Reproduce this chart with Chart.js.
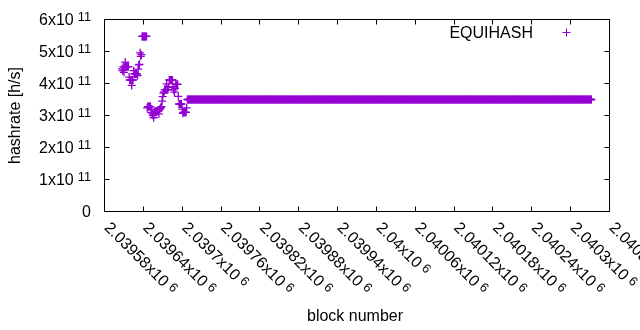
<!DOCTYPE html>
<html><head><meta charset="utf-8">
<script src="https://cdn.jsdelivr.net/npm/chart.js@4/dist/chart.umd.min.js"></script>
<style>html,body{margin:0;padding:0;background:#fff}canvas{display:block}</style>
</head><body>
<canvas id="c" width="640" height="330"></canvas>
<script>
const seriesName = "EQUIHASH";
const xTitle = "block number";
const yTitle = "hashrate [h/s]";
const firstBlock = 2039607;
const hashrate = [
4.46e11,4.40e11,4.52e11,4.35e11,4.51e11,4.67e11,4.53e11,4.53e11,4.53e11,4.53e11,
4.53e11,4.20e11,4.11e11,4.11e11,4.11e11,3.94e11,4.11e11,4.11e11,4.40e11,4.30e11,
4.30e11,4.30e11,4.30e11,4.30e11,4.25e11,4.45e11,4.58e11,4.60e11,4.96e11,4.85e11,
4.90e11,5.47e11,5.47e11,5.47e11,5.47e11,5.47e11,5.47e11,5.47e11,5.47e11,3.24e11,
3.28e11,3.28e11,3.28e11,3.28e11,3.28e11,3.10e11,3.20e11,3.05e11,3.00e11,2.93e11,
3.10e11,3.13e11,3.13e11,3.13e11,3.13e11,3.13e11,3.13e11,3.05e11,3.18e11,3.22e11,
3.25e11,3.28e11,3.45e11,3.59e11,3.70e11,3.74e11,3.81e11,3.81e11,3.81e11,3.99e11,
3.81e11,3.81e11,3.88e11,4.11e11,4.11e11,4.11e11,4.11e11,4.11e11,4.11e11,3.90e11,
3.80e11,3.73e11,3.85e11,3.97e11,3.97e11,3.97e11,3.97e11,3.60e11,3.36e11,3.36e11,
3.36e11,3.36e11,3.36e11,3.20e11,3.07e11,3.10e11,3.10e11,3.10e11,3.10e11,3.10e11,
3.24e11,
3.5e11,3.5e11,3.5e11,3.5e11,3.5e11,3.5e11,3.5e11,3.5e11,3.5e11,3.5e11,3.5e11,3.5e11,3.5e11,3.5e11,3.5e11,3.5e11,3.5e11,3.5e11,3.5e11,3.5e11,3.5e11,3.5e11,3.5e11,3.5e11,3.5e11,
3.5e11,3.5e11,3.5e11,3.5e11,3.5e11,3.5e11,3.5e11,3.5e11,3.5e11,3.5e11,3.5e11,3.5e11,3.5e11,3.5e11,3.5e11,3.5e11,3.5e11,3.5e11,3.5e11,3.5e11,3.5e11,3.5e11,3.5e11,3.5e11,3.5e11,
3.5e11,3.5e11,3.5e11,3.5e11,3.5e11,3.5e11,3.5e11,3.5e11,3.5e11,3.5e11,3.5e11,3.5e11,3.5e11,3.5e11,3.5e11,3.5e11,3.5e11,3.5e11,3.5e11,3.5e11,3.5e11,3.5e11,3.5e11,3.5e11,3.5e11,
3.5e11,3.5e11,3.5e11,3.5e11,3.5e11,3.5e11,3.5e11,3.5e11,3.5e11,3.5e11,3.5e11,3.5e11,3.5e11,3.5e11,3.5e11,3.5e11,3.5e11,3.5e11,3.5e11,3.5e11,3.5e11,3.5e11,3.5e11,3.5e11,3.5e11,
3.5e11,3.5e11,3.5e11,3.5e11,3.5e11,3.5e11,3.5e11,3.5e11,3.5e11,3.5e11,3.5e11,3.5e11,3.5e11,3.5e11,3.5e11,3.5e11,3.5e11,3.5e11,3.5e11,3.5e11,3.5e11,3.5e11,3.5e11,3.5e11,3.5e11,
3.5e11,3.5e11,3.5e11,3.5e11,3.5e11,3.5e11,3.5e11,3.5e11,3.5e11,3.5e11,3.5e11,3.5e11,3.5e11,3.5e11,3.5e11,3.5e11,3.5e11,3.5e11,3.5e11,3.5e11,3.5e11,3.5e11,3.5e11,3.5e11,3.5e11,
3.5e11,3.5e11,3.5e11,3.5e11,3.5e11,3.5e11,3.5e11,3.5e11,3.5e11,3.5e11,3.5e11,3.5e11,3.5e11,3.5e11,3.5e11,3.5e11,3.5e11,3.5e11,3.5e11,3.5e11,3.5e11,3.5e11,3.5e11,3.5e11,3.5e11,
3.5e11,3.5e11,3.5e11,3.5e11,3.5e11,3.5e11,3.5e11,3.5e11,3.5e11,3.5e11,3.5e11,3.5e11,3.5e11,3.5e11,3.5e11,3.5e11,3.5e11,3.5e11,3.5e11,3.5e11,3.5e11,3.5e11,3.5e11,3.5e11,3.5e11,
3.5e11,3.5e11,3.5e11,3.5e11,3.5e11,3.5e11,3.5e11,3.5e11,3.5e11,3.5e11,3.5e11,3.5e11,3.5e11,3.5e11,3.5e11,3.5e11,3.5e11,3.5e11,3.5e11,3.5e11,3.5e11,3.5e11,3.5e11,3.5e11,3.5e11,
3.5e11,3.5e11,3.5e11,3.5e11,3.5e11,3.5e11,3.5e11,3.5e11,3.5e11,3.5e11,3.5e11,3.5e11,3.5e11,3.5e11,3.5e11,3.5e11,3.5e11,3.5e11,3.5e11,3.5e11,3.5e11,3.5e11,3.5e11,3.5e11,3.5e11,
3.5e11,3.5e11,3.5e11,3.5e11,3.5e11,3.5e11,3.5e11,3.5e11,3.5e11,3.5e11,3.5e11,3.5e11,3.5e11,3.5e11,3.5e11,3.5e11,3.5e11,3.5e11,3.5e11,3.5e11,3.5e11,3.5e11,3.5e11,3.5e11,3.5e11,
3.5e11,3.5e11,3.5e11,3.5e11,3.5e11,3.5e11,3.5e11,3.5e11,3.5e11,3.5e11,3.5e11,3.5e11,3.5e11,3.5e11,3.5e11,3.5e11,3.5e11,3.5e11,3.5e11,3.5e11,3.5e11,3.5e11,3.5e11,3.5e11,3.5e11,
3.5e11,3.5e11,3.5e11,3.5e11,3.5e11,3.5e11,3.5e11,3.5e11,3.5e11,3.5e11,3.5e11,3.5e11,3.5e11,3.5e11,3.5e11,3.5e11,3.5e11,3.5e11,3.5e11,3.5e11,3.5e11,3.5e11,3.5e11,3.5e11,3.5e11,
3.5e11,3.5e11,3.5e11,3.5e11,3.5e11,3.5e11,3.5e11,3.5e11,3.5e11,3.5e11,3.5e11,3.5e11,3.5e11,3.5e11,3.5e11,3.5e11,3.5e11,3.5e11,3.5e11,3.5e11,3.5e11,3.5e11,3.5e11,3.5e11,3.5e11,
3.5e11,3.5e11,3.5e11,3.5e11,3.5e11,3.5e11,3.5e11,3.5e11,3.5e11,3.5e11,3.5e11,3.5e11,3.5e11,3.5e11,3.5e11,3.5e11,3.5e11,3.5e11,3.5e11,3.5e11,3.5e11,3.5e11,3.5e11,3.5e11,3.5e11,
3.5e11,3.5e11,3.5e11,3.5e11,3.5e11,3.5e11,3.5e11,3.5e11,3.5e11,3.5e11,3.5e11,3.5e11,3.5e11,3.5e11,3.5e11,3.5e11,3.5e11,3.5e11,3.5e11,3.5e11,3.5e11,3.5e11,3.5e11,3.5e11,3.5e11,
3.5e11,3.5e11,3.5e11,3.5e11,3.5e11,3.5e11,3.5e11,3.5e11,3.5e11,3.5e11,3.5e11,3.5e11,3.5e11,3.5e11,3.5e11,3.5e11,3.5e11,3.5e11,3.5e11,3.5e11,3.5e11,3.5e11,3.5e11,3.5e11,3.5e11,
3.5e11,3.5e11,3.5e11,3.5e11,3.5e11,3.5e11,3.5e11,3.5e11,3.5e11,3.5e11,3.5e11,3.5e11,3.5e11,3.5e11,3.5e11,3.5e11,3.5e11,3.5e11,3.5e11,3.5e11,3.5e11,3.5e11,3.5e11,3.5e11,3.5e11,
3.5e11,3.5e11,3.5e11,3.5e11,3.5e11,3.5e11,3.5e11,3.5e11,3.5e11,3.5e11,3.5e11,3.5e11,3.5e11,3.5e11,3.5e11,3.5e11,3.5e11,3.5e11,3.5e11,3.5e11,3.5e11,3.5e11,3.5e11,3.5e11,3.5e11,
3.5e11,3.5e11,3.5e11,3.5e11,3.5e11,3.5e11,3.5e11,3.5e11,3.5e11,3.5e11,3.5e11,3.5e11,3.5e11,3.5e11,3.5e11,3.5e11,3.5e11,3.5e11,3.5e11,3.5e11,3.5e11,3.5e11,3.5e11,3.5e11,3.5e11,
3.5e11,3.5e11,3.5e11,3.5e11,3.5e11,3.5e11,3.5e11,3.5e11,3.5e11,3.5e11,3.5e11,3.5e11,3.5e11,3.5e11,3.5e11,3.5e11,3.5e11,3.5e11,3.5e11,3.5e11,3.5e11,3.5e11,3.5e11,3.5e11,3.5e11,
3.5e11,3.5e11,3.5e11,3.5e11,3.5e11,3.5e11,3.5e11,3.5e11,3.5e11,3.5e11,3.5e11,3.5e11,3.5e11,3.5e11,3.5e11,3.5e11,3.5e11,3.5e11,3.5e11,3.5e11,3.5e11,3.5e11,3.5e11,3.5e11,3.5e11,
3.5e11,3.5e11,3.5e11,3.5e11,3.5e11,3.5e11,3.5e11,3.5e11,3.5e11,3.5e11,3.5e11,3.5e11,3.5e11,3.5e11,3.5e11,3.5e11,3.5e11,3.5e11,3.5e11,3.5e11,3.5e11,3.5e11,3.5e11,3.5e11,3.5e11,
3.5e11,3.5e11,3.5e11,3.5e11,3.5e11,3.5e11,3.5e11,3.5e11,3.5e11,3.5e11,3.5e11,3.5e11,3.5e11,3.5e11,3.5e11,3.5e11,3.5e11,3.5e11,3.5e11,3.5e11,3.5e11,3.5e11,3.5e11,3.5e11,3.5e11,
3.5e11,3.5e11,3.5e11,3.5e11,3.5e11,3.5e11,3.5e11,3.5e11,3.5e11,3.5e11,3.5e11,3.5e11,3.5e11,3.5e11,3.5e11,3.5e11,3.5e11,3.5e11,3.5e11,3.5e11,3.5e11,3.5e11,3.5e11,3.5e11,3.5e11
];
const xMin = 2039580, xMax = 2040360;
const xTickValues = [2039580,2039640,2039700,2039760,2039820,2039880,2039940,2040000,2040060,2040120,2040180,2040240,2040300,2040360];
const xTickLabels = ["2.03958x10","2.03964x10","2.0397x10","2.03976x10","2.03982x10","2.03988x10","2.03994x10","2.04x10","2.04006x10","2.04012x10","2.04018x10","2.04024x10","2.0403x10","2.04036x10"];
const xTickExp = "6";
const yMin = 0, yMax = 6e11;
const yTickValues = [0,1e11,2e11,3e11,4e11,5e11,6e11];
const yTickLabels = ["0","1x10","2x10","3x10","4x10","5x10","6x10"];
const yTickExps = ["","11","11","11","11","11","11"];

const COLOR = '#9400d3';
const FONT = '"Liberation Sans", Arial, sans-serif';
const MAIN = '16px ' + FONT, SUP = '12.8px ' + FONT;
const points = hashrate.map((v, i) => ({x: firstBlock + i, y: v}));

const frame = {
  id: 'frame',
  afterDraw(chart) {
    const ctx = chart.ctx, a = chart.chartArea, xs = chart.scales.x, ys = chart.scales.y;
    ctx.save();
    ctx.strokeStyle = '#000'; ctx.lineWidth = 1;
    ctx.strokeRect(a.left, a.top, a.right - a.left, a.bottom - a.top);
    const T = 5;
    ctx.beginPath();
    xTickValues.forEach(v => {
      const px = Math.floor(xs.getPixelForValue(v)) + 0.5;
      ctx.moveTo(px, a.bottom); ctx.lineTo(px, a.bottom - T);
      ctx.moveTo(px, a.top); ctx.lineTo(px, a.top + T);
    });
    yTickValues.forEach(v => {
      const py = Math.floor(ys.getPixelForValue(v)) + 0.5;
      ctx.moveTo(a.left, py); ctx.lineTo(a.left + T, py);
      ctx.moveTo(a.right, py); ctx.lineTo(a.right - T, py);
    });
    ctx.stroke();
    ctx.fillStyle = '#000';
    ctx.textBaseline = 'alphabetic';
    ctx.textAlign = 'left';
    const GAP = 4;
    yTickValues.forEach((v, i) => {
      const py = ys.getPixelForValue(v);
      ctx.font = MAIN; const wm = ctx.measureText(yTickLabels[i]).width;
      const ex = yTickExps[i];
      ctx.font = SUP; const we = ex ? ctx.measureText(ex).width + GAP : 0;
      const xEnd = 91;
      ctx.font = MAIN; ctx.fillText(yTickLabels[i], xEnd - we - wm, py + 5);
      if (ex) { ctx.font = SUP; ctx.fillText(ex, xEnd - we + GAP, py + 1.5); }
    });
    xTickValues.forEach((v, i) => {
      const px = xs.getPixelForValue(v);
      ctx.save();
      ctx.translate(px - 1, a.bottom + 17);
      ctx.rotate(Math.PI / 4);
      ctx.font = MAIN; ctx.fillText(xTickLabels[i], 0, 0);
      const wm = ctx.measureText(xTickLabels[i]).width;
      ctx.font = SUP; ctx.fillText(xTickExp, wm + GAP, -3.5);
      ctx.restore();
    });
    ctx.font = MAIN;
    ctx.save();
    ctx.translate(20, (a.top + a.bottom) / 2);
    ctx.rotate(-Math.PI / 2);
    ctx.textAlign = 'center';
    ctx.fillText(yTitle, 0, 0);
    ctx.restore();
    ctx.textAlign = 'center';
    ctx.fillText(xTitle, 355, 321);
    ctx.textAlign = 'right';
    ctx.fillText(seriesName, 533, 37.5);
    ctx.strokeStyle = COLOR;
    ctx.beginPath();
    ctx.moveTo(562.5, 32.5); ctx.lineTo(570.5, 32.5);
    ctx.moveTo(566.5, 28.5); ctx.lineTo(566.5, 36.5);
    ctx.stroke();
    ctx.restore();
  }
};

new Chart(document.getElementById('c'), {
  type: 'scatter',
  data: { datasets: [{
    label: seriesName, data: points, showLine: false,
    pointStyle: 'cross', pointRadius: 4, pointHoverRadius: 4,
    pointBorderColor: COLOR, pointBackgroundColor: COLOR, pointBorderWidth: 1.3,
    borderColor: COLOR, backgroundColor: COLOR
  }] },
  options: {
    responsive: false, animation: false, devicePixelRatio: 1, events: [],
    layout: { padding: { left: 104.5, right: 30.5, top: 19.5, bottom: 118.5 } },
    scales: {
      x: { type: 'linear', display: false, min: xMin, max: xMax },
      y: { type: 'linear', display: false, min: yMin, max: yMax }
    },
    plugins: { legend: { display: false }, tooltip: { enabled: false } }
  },
  plugins: [frame]
});
</script>
</body></html>
